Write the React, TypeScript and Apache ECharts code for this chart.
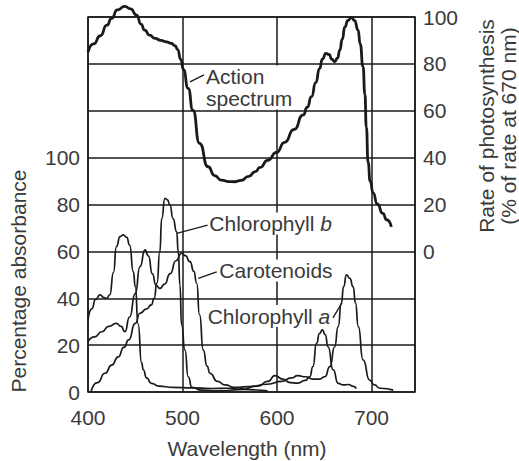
import React, { useEffect, useRef } from "react";
import * as echarts from "echarts";

// Tick labels
const wavelengthTicks = [400, 500, 600, 700];
const absorbanceTicks = [0, 20, 40, 60, 80, 100];
const rateTicks = [0, 20, 40, 60, 80, 100];

// Action spectrum: [wavelength nm, rate of photosynthesis % of rate at 670 nm]
const actionSpectrum: number[][] = [
  [400, 85], [406, 88.5], [413, 92], [420, 96.5], [425, 99.4], [431, 103], [439, 104.5],
  [445, 103.5], [451.5, 100.8], [456, 97], [460, 94.4], [465, 92.3], [471, 90.9], [477, 90],
  [483, 89.4], [488, 88.8], [492, 87.8], [495, 86], [498, 82], [501, 77.5], [506, 69.5],
  [511, 60.3], [518, 46.1], [527, 36.1], [534, 32.3], [541, 30.4], [549, 29.8], [555, 29.7],
  [562, 30.3], [570, 32], [577, 34], [582, 35.8], [590, 38.8], [599.5, 42.2], [608, 46.5],
  [618, 52], [627.7, 58.2], [632, 61.5], [636.5, 66], [641, 72], [645, 78], [648, 82],
  [651.7, 84.5], [655, 84], [658, 82], [661, 80.9], [664, 82.5], [666.5, 85.9], [669, 90.5],
  [671.8, 95.8], [675, 98.5], [678.8, 99.8], [682, 98.5], [685.8, 94.4], [688, 88.5],
  [691, 78.8], [693, 67], [694.5, 53], [696.4, 38], [698.5, 30], [701.7, 25], [706, 20.3],
  [712, 16.2], [716, 13.5], [721, 10.5],
];

// Absorbance curves: [wavelength nm, percentage absorbance]
const chlorophyllA: number[][] = [
  [400, 30.7], [404, 35.5], [408, 39.5], [412.7, 41.4], [417, 40.3], [420, 40], [423, 41.5],
  [427, 51], [430, 62], [434, 66.3], [437.3, 67], [441, 66], [444, 62.7], [448, 51.3],
  [450, 45], [453, 29], [456.7, 12.5], [458.5, 9.5], [462, 6], [467, 3.7], [475, 2.5],
  [490, 2], [510, 1.8], [530, 1.5], [550, 1.6], [570, 2.3], [590, 3.3], [605, 4.5],
  [615, 6], [622, 7], [630, 6.5], [638, 5.5], [645, 5.5], [650.6, 6.5], [656, 10.8],
  [661, 19.3], [664.7, 27.9], [668, 37.8], [670.5, 45], [673.5, 50], [677, 48.5],
  [680.6, 44.9], [683, 38], [686, 27.9], [691, 13.7], [698, 5.1], [703, 3], [709, 1.6],
  [723, 0.8],
];

const chlorophyllB: number[][] = [
  [403, 0], [410, 4], [418, 8], [425, 11.5], [432, 15], [438, 19], [443, 22.2], [450, 29.3],
  [455, 33.6], [462, 35.5], [467, 37.2], [470, 40], [473, 46.5], [476, 59.8], [478, 74],
  [481.4, 82.6], [484, 82], [486.7, 79.8], [490, 74], [493.8, 68.4], [495.5, 59.8],
  [497.3, 45.6], [499, 28.6], [502.6, 17.9], [506, 6.5], [510, 2], [520, 0.8], [540, 0.5],
  [560, 1], [580, 2.5], [590, 4.5], [598, 7], [606, 5.5], [614, 4], [622, 3.8], [630, 5],
  [634.7, 6.5], [638, 10.8], [641.8, 20.8], [645, 25], [648, 26.5], [651, 24.5],
  [654, 19.3], [659.4, 9.4], [664.7, 3.7], [670, 3], [676, 3.2], [680, 2.5], [684, 1.5],
];

const carotenoids: number[][] = [
  [400, 21.5], [407, 23.5], [414.5, 25.7], [422, 28], [430, 29.3], [435, 28], [439, 25.7],
  [444, 32], [450, 42], [455, 53.5], [460.3, 60.6], [464, 58], [468, 50.5], [472, 45.5],
  [476, 44.2], [481, 46], [487, 50.5], [493, 56], [499, 59.2], [503, 58.2], [507.9, 55.6],
  [512, 51.5], [515, 46.4], [518, 33], [522, 17.9], [526, 11], [529, 8], [537, 4.5],
  [545, 3], [555, 2], [570, 1], [590, 0.5],
];

// Curve labels, anchored in data coordinates [nm, absorbance]
const curveLabels = [
  { name: "action", text: "Action\nspectrum", at: [523.8, 129.9], leader: [[522.7, 135.3], [507.9, 132.3]] },
  { name: "chlB", text: "Chlorophyll {i|b}", at: [527.3, 71.9], leader: [[526.6, 71.25], [493.9, 67.7]] },
  { name: "car", text: "Carotenoids", at: [537.9, 51.8], leader: [[536.2, 51.3], [516.7, 48.5]] },
  { name: "chlA", text: "Chlorophyll {i|a}", at: [525.6, 32.4], leader: [[659.2, 31.6], [668.7, 38.0]] },
];

const FONT = "'Liberation Sans', Arial, Helvetica, sans-serif";
const TEXT = "#3a3a3a";
const INK = "#1a1a1a";
const FS = 21;

export default function App() {
  const ref = useRef<HTMLDivElement>(null);
  useEffect(() => {
    if (!ref.current) return;
    const chart = echarts.init(ref.current, undefined, { renderer: "svg" });
    const lineSeries = (name: string, data: number[][], width: number, yAxisIndex = 0) => ({
      name,
      type: "line",
      data,
      yAxisIndex,
      smooth: 0.6,
      smoothMonotone: "x",
      showSymbol: false,
      symbol: "none",
      clip: false,
      lineStyle: { color: INK, width },
      z: 3,
    });
    const option: any = {
      animation: false,
      backgroundColor: "#fff",
      grid: {
        left: 88, right: 104, top: 17, bottom: 69,
        show: true, borderColor: INK, borderWidth: 1.5, backgroundColor: "transparent",
      },
      xAxis: {
        type: "value", min: 400, max: 746, interval: 100,
        axisLine: { show: false }, axisTick: { show: false },
        splitLine: { show: true, lineStyle: { color: INK, width: 1.5 } },
        axisLabel: {
          margin: 15, color: TEXT, fontFamily: FONT, fontSize: FS,
          formatter: (v: number) => (wavelengthTicks.includes(v) ? String(v) : ""),
        },
      },
      yAxis: [
        {
          type: "value", min: 0, max: 160, interval: 20,
          axisLine: { show: false }, axisTick: { show: false },
          splitLine: { show: true, lineStyle: { color: INK, width: 1.5 } },
          axisLabel: {
            margin: 8, color: TEXT, fontFamily: FONT, fontSize: FS,
            formatter: (v: number) => (absorbanceTicks.includes(v) ? String(v) : ""),
          },
        },
        {
          type: "value", min: -60, max: 100, interval: 20, position: "right",
          axisLine: { show: false }, axisTick: { show: false }, splitLine: { show: false },
          axisLabel: {
            margin: 8, color: TEXT, fontFamily: FONT, fontSize: FS,
            formatter: (v: number) => (rateTicks.includes(v) ? String(v) : ""),
          },
        },
      ],
      series: [
        lineSeries("Chlorophyll a", chlorophyllA, 1.7),
        lineSeries("Chlorophyll b", chlorophyllB, 1.7),
        lineSeries("Carotenoids", carotenoids, 1.7),
        lineSeries("Action spectrum", actionSpectrum, 2.8, 1),
      ],
    };
    chart.setOption(option);

    const px = (p: number[]) => chart.convertToPixel({ xAxisIndex: 0, yAxisIndex: 0 }, p) as number[];
    const graphics: any[] = [];
    curveLabels.forEach((l) => {
      const a = px(l.at);
      const p1 = px(l.leader[0]);
      const p2 = px(l.leader[1]);
      graphics.push({
        type: "line", z: 100,
        shape: { x1: p1[0], y1: p1[1], x2: p2[0], y2: p2[1] },
        style: { stroke: INK, lineWidth: 1.3 },
      });
      graphics.push({
        type: "text", z: 101, x: a[0], y: a[1],
        style: {
          text: l.text, fill: TEXT, fontFamily: FONT, fontSize: FS,
          align: "left", verticalAlign: "middle", lineHeight: 22,
          backgroundColor: "#fff", padding: [0, 1],
          rich: { i: { fontStyle: "italic", fontFamily: FONT, fontSize: FS, fill: TEXT } },
        },
      });
    });
    graphics.push({
      type: "text", x: 18, y: 281, rotation: Math.PI / 2,
      style: { text: "Percentage absorbance", fill: TEXT, fontFamily: FONT, fontSize: FS, align: "center", verticalAlign: "middle" },
    });
    graphics.push({
      type: "text", x: 497, y: 126, rotation: Math.PI / 2,
      style: {
        text: "Rate of photosynthesis\n(% of rate at 670 nm)", fill: TEXT, fontFamily: FONT, fontSize: FS,
        align: "center", verticalAlign: "middle", lineHeight: 22,
      },
    });
    graphics.push({
      type: "text", x: 247, y: 448,
      style: { text: "Wavelength (nm)", fill: TEXT, fontFamily: FONT, fontSize: FS, align: "center", verticalAlign: "middle" },
    });
    chart.setOption({ graphic: graphics });

    return () => chart.dispose();
  }, []);
  return <div ref={ref} style={{ position: "fixed", left: 0, top: 0, width: 519, height: 461 }} />;
}
